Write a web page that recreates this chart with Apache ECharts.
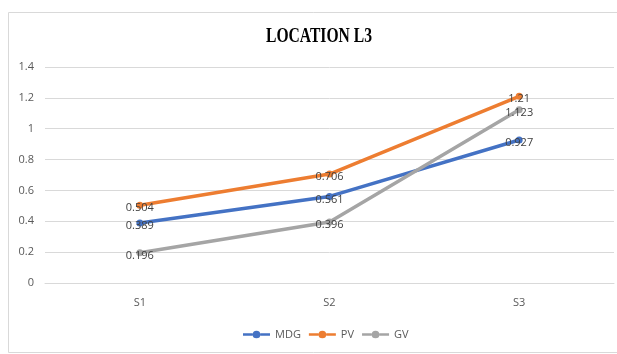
<!DOCTYPE html>
<html><head><meta charset="utf-8">
<script src="https://cdn.jsdelivr.net/npm/echarts@6/dist/echarts.min.js"></script>
<style>html,body{margin:0;padding:0;background:#fff}#c{width:617px;height:354px}</style>
</head><body><div id="c"></div>
<script>
const categories = ['S1','S2','S3'];
const seriesNames = ['MDG','PV','GV'];
const mdg = [0.389, 0.561, 0.927];
const pv = [0.504, 0.706, 1.21];
const gv = [0.196, 0.396, 1.123];
const yTicks = [0, 0.2, 0.4, 0.6, 0.8, 1, 1.2, 1.4];
const colors = ['#4472C4','#ED7D31','#A5A5A5'];
const values = [mdg, pv, gv];

const legendIcon = 'path://M0,2.6H10V5.4H0Z M18,2.6H28V5.4H18Z M10,4A4,4 0 1,1 18,4A4,4 0 1,1 10,4Z';

const chart = echarts.init(document.getElementById('c'));
chart.setOption({
  animation: false,
  graphic: [
    {type:'rect', shape:{x:8.5,y:12.5,width:620,height:340}, style:{fill:'none',stroke:'#d9d9d9',lineWidth:1}, silent:true},
    {type:'text', x:319, y:37, scaleX:0.78, originX:0, originY:0,
      style:{text:'LOCATION L3', font:'bold 20px "Liberation Serif"', fill:'#000', align:'center', verticalAlign:'middle'}, silent:true}
  ],
  grid: {left:45, right:3, top:67, bottom:71},
  legend: {bottom:9, left:238, itemWidth:27, itemHeight:8, itemGap:8,
    textStyle:{fontFamily:'Open Sans', fontSize:11, color:'#595959'},
    data: seriesNames.map(n=>({name:n, icon:legendIcon}))},
  xAxis: {type:'category', data:categories, boundaryGap:true,
    axisLine:{lineStyle:{color:'#d9d9d9'}}, axisTick:{show:false},
    axisLabel:{color:'#595959', fontFamily:'Open Sans', fontSize:11, margin:14}},
  yAxis: {type:'value', min:0, max:1.4, interval:0.2,
    axisLine:{show:false}, axisTick:{show:false},
    splitLine:{lineStyle:{color:'#d9d9d9'}},
    axisLabel:{color:'#595959', fontFamily:'Open Sans', fontSize:11, margin:11,
      formatter: v => { const t = yTicks.find(x=>Math.abs(x-v)<1e-9); return t===undefined? '' : String(t); }}},
  series: values.map((d,i)=>({
    name: seriesNames[i], type:'line', data:d, color:colors[i],
    lineStyle:{width:3.5, color:colors[i]}, symbol:'circle', symbolSize:7,
    itemStyle:{color:colors[i]},
    label:{show:true, position:'inside', offset:[0,3], color:'#404040', fontFamily:'Open Sans', fontSize:11,
      formatter: p => String(p.value)}
  }))
});
</script></body></html>
